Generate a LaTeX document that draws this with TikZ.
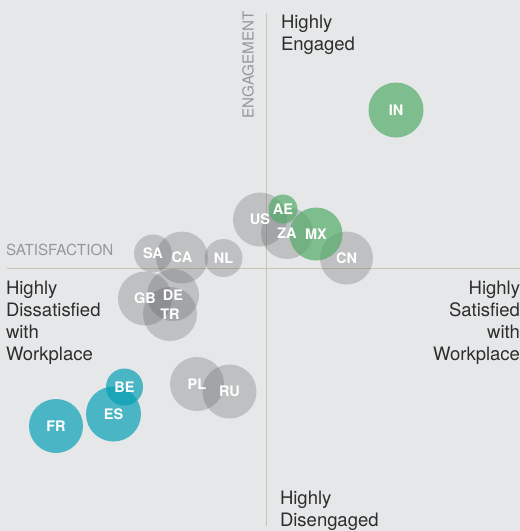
\documentclass[tikz,border=0pt]{standalone}
\usepackage{fontspec}
\setmainfont{TeX Gyre Heros}
\usetikzlibrary{positioning}
\definecolor{bgcol}{RGB}{230,231,232}
\definecolor{axiscol}{RGB}{200,198,178}
\definecolor{textdark}{RGB}{45,45,45}
\definecolor{axisgray}{RGB}{150,151,153}
\definecolor{bubblegray}{RGB}{90,92,96}
\definecolor{bubblegreen}{RGB}{83,172,105}
\definecolor{bubbleteal}{RGB}{5,159,180}
\tikzset{
	every node/.style={inner sep=0pt,outer sep=0pt},
	bubble/.style={circle, draw=none, fill opacity=0.7},
	neutral/.style={bubble, fill=bubblegray, fill opacity=0.28},
	engaged/.style={bubble, fill=bubblegreen},
	disengaged/.style={bubble, fill=bubbleteal, fill opacity=0.69},
	country/.style={text=white, font=\bfseries\fontsize{14.5}{15}\selectfont},
	corner/.style={text=textdark, font=\fontsize{18.5}{22}\selectfont},
	axistitle/.style={text=axisgray, font=\fontsize{15.2}{16}\selectfont},
	axis/.style={draw=axiscol, line width=1pt}
}
\newcommand{\countrylist}{US/260/219.5/54/neutral, ZA/287/233/52/neutral, CN/346.5/258/53/neutral,
	SA/153/253.5/38/neutral, CA/182/257.5/52/neutral, NL/223.5/258/38/neutral,
	GB/145/298.5/54/neutral, DE/173/295/52/neutral, TR/170/314/54/neutral,
	PL/197/384/54/neutral, RU/229.5/391.5/54/neutral,
	IN/396/110/55/engaged, AE/283/209/29/engaged, MX/316/234/53/engaged,
	BE/124.5/387/37/disengaged, ES/113.5/414/55/disengaged, FR/56/426/54/disengaged}

\begin{document}
\begin{tikzpicture}[x=1pt,y=-1pt]
	\fill[bgcol] (0,0) rectangle (520,531);
	\useasboundingbox (0,0) rectangle (520,531);
	
	% Axes
	\coordinate (h-west) at (7,268.5);
	\coordinate (h-east) at (520,268.5);
	\coordinate (v-north) at (266,13);
	\coordinate (v-south) at (266,526);
	\draw[axis] (h-west) -- (h-east);
	\draw[axis] (v-north) -- (v-south);
	
	\node[axistitle, rotate=90] (engagement) at (248,65) {ENGAGEMENT};
	\node[axistitle, anchor=west] (satisfaction) at (6,250) {SATISFACTION};
	
	% Corner texts
	\node[corner, align=left, anchor=base west] (top) at (281,50) {Highly\\Engaged};
	\node[corner, align=left, anchor=base west] (bottom) at (280,526) {Highly\\Disengaged};
	\node[corner, align=left, anchor=base west] (left) at (6,360) {Highly\\Dissatisfied\\with\\Workplace};
	\node[corner, align=right, anchor=base east] (right) at (520,360) {Highly\\Satisfied\\with\\Workplace};
	
	% Bubbles, then their labels on top
	\foreach \n/\x/\y/\d/\s in \countrylist
		\node[\s, minimum size=\d] (c-\n) at (\x,\y) {};
	\foreach \n/\x/\y/\d/\s in \countrylist
		\node[country] (t-\n) at (c-\n) {\n};
\end{tikzpicture}
\end{document}
